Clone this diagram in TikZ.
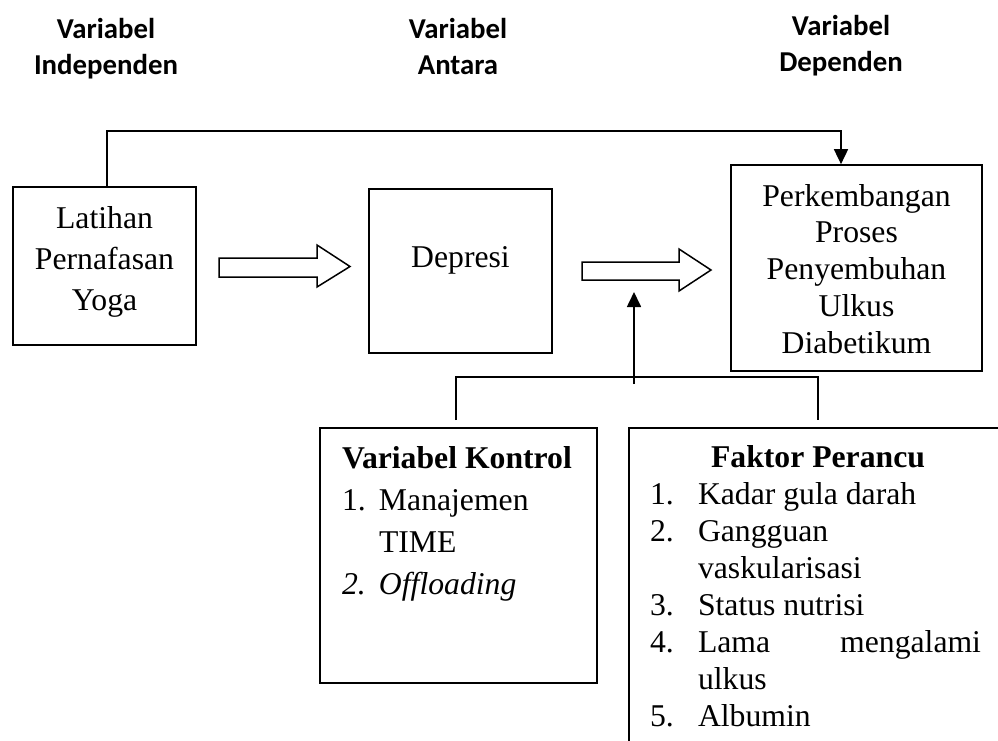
\documentclass[tikz,border=0pt]{standalone}
\usepackage{fontspec}
\setmainfont{Liberation Serif}
\newfontfamily\hdrfont{Carlito}
\usetikzlibrary{arrows.meta}
\begin{document}
\begin{tikzpicture}[x=1pt,y=-1pt,
  box/.style={draw, line width=1.7pt, rectangle, inner sep=0pt},
  txt/.style={inner sep=0pt, outer sep=0pt, anchor=base, font=\fontsize{31.7}{36.8}\selectfont},
  hdr/.style={inner sep=0pt, outer sep=0pt, anchor=base, font=\hdrfont\bfseries\fontsize{28.8}{36}\selectfont},
  link/.style={line width=1.7pt},
  tiparrow/.style={link, -{Triangle[width=14pt,length=15pt]}},
  blockarrow/.style={line width=1.5pt, fill=white, line join=miter}
]
% canvas
\fill[white] (0,0) rectangle (998,740);
\useasboundingbox (0,0) rectangle (998,740);
\clip (0,0) rectangle (998,740);

% column headings
\node[hdr] (hInd) at (106,38) {\begin{tabular}[t]{@{}c@{}}Variabel\\Independen\end{tabular}};
\node[hdr] (hAnt) at (458,38) {\begin{tabular}[t]{@{}c@{}}Variabel\\Antara\end{tabular}};
\node[hdr] (hDep) at (841,35) {\begin{tabular}[t]{@{}c@{}}Variabel\\Dependen\end{tabular}};

% boxes
\node[box, minimum width=183, minimum height=158] (lat) at (104.5,266) {};
\node[box, minimum width=183, minimum height=164] (dpr) at (460.5,271) {};
\node[box, minimum width=251, minimum height=206] (dv)  at (856.5,268) {};
\node[box, minimum width=277, minimum height=255] (kon) at (458.5,555.5) {};
\node[box, minimum width=378, minimum height=342] (fak) at (818,599) {};

% box texts
\node[txt, font=\fontsize{31.7}{41}\selectfont] (latT) at (104.5,228)
  {\begin{tabular}[t]{@{}c@{}}Latihan\\Pernafasan\\Yoga\end{tabular}};
\node[txt] (dprT) at (460.5,267) {Depresi};
\node[txt] (dvT) at (856.5,206)
  {\begin{tabular}[t]{@{}c@{}}Perkembangan\\Proses\\Penyembuhan\\Ulkus\\Diabetikum\end{tabular}};
\node[txt, anchor=base west, font=\fontsize{31.7}{42.3}\selectfont] (konT) at (342,468)
  {\begin{tabular}[t]{@{}p{37pt}@{}l@{}}
   \multicolumn{2}{@{}l@{}}{\textbf{Variabel Kontrol}}\\
   1. & Manajemen\\
      & TIME\\
   \itshape 2. & \itshape Offloading
   \end{tabular}};
\node[txt, anchor=base west, font=\fontsize{31.7}{37}\selectfont] (fakT) at (650,467)
  {\begin{tabular}[t]{@{}p{48pt}@{}l@{}}
   \multicolumn{2}{@{\hspace{5pt}}c@{}}{\textbf{Faktor Perancu}}\\
   1. & Kadar gula darah\\
   2. & Gangguan\\
      & vaskularisasi\\
   3. & Status nutrisi\\
   4. & \hbox to 283pt{Lama\hfill mengalami}\\
      & ulkus\\
   5. & Albumin
   \end{tabular}};

% block arrows between the main boxes
\draw[blockarrow] (219,258) -- (317,258) -- (317,245) -- (350,266.5) -- (317,287)
  -- (317,277) -- (219,277) -- cycle;
\draw[blockarrow] (582,262) -- (679,262) -- (679,249) -- (711,270) -- (679,291)
  -- (679,280) -- (582,280) -- cycle;

% direct link from the independent to the dependent variable
\draw[tiparrow] ([xshift=2.5pt]lat.north) -- ([xshift=2.5pt]lat.north |- 0,131)
  -| ([xshift=-15.5pt]dv.north);

% control and confounding factors acting on the relation
\coordinate (hub) at (634,384);
\coordinate (mod) at (634,292);
\draw[tiparrow] (hub) -- (mod);
\draw[link] ([xshift=-2.5pt,yshift=7pt]kon.north) -- ([xshift=-2.5pt,yshift=7pt]kon.north |- hub)
  -- ([yshift=7pt]fak.north |- hub) -- ([yshift=7pt]fak.north);
\end{tikzpicture}
\end{document}
